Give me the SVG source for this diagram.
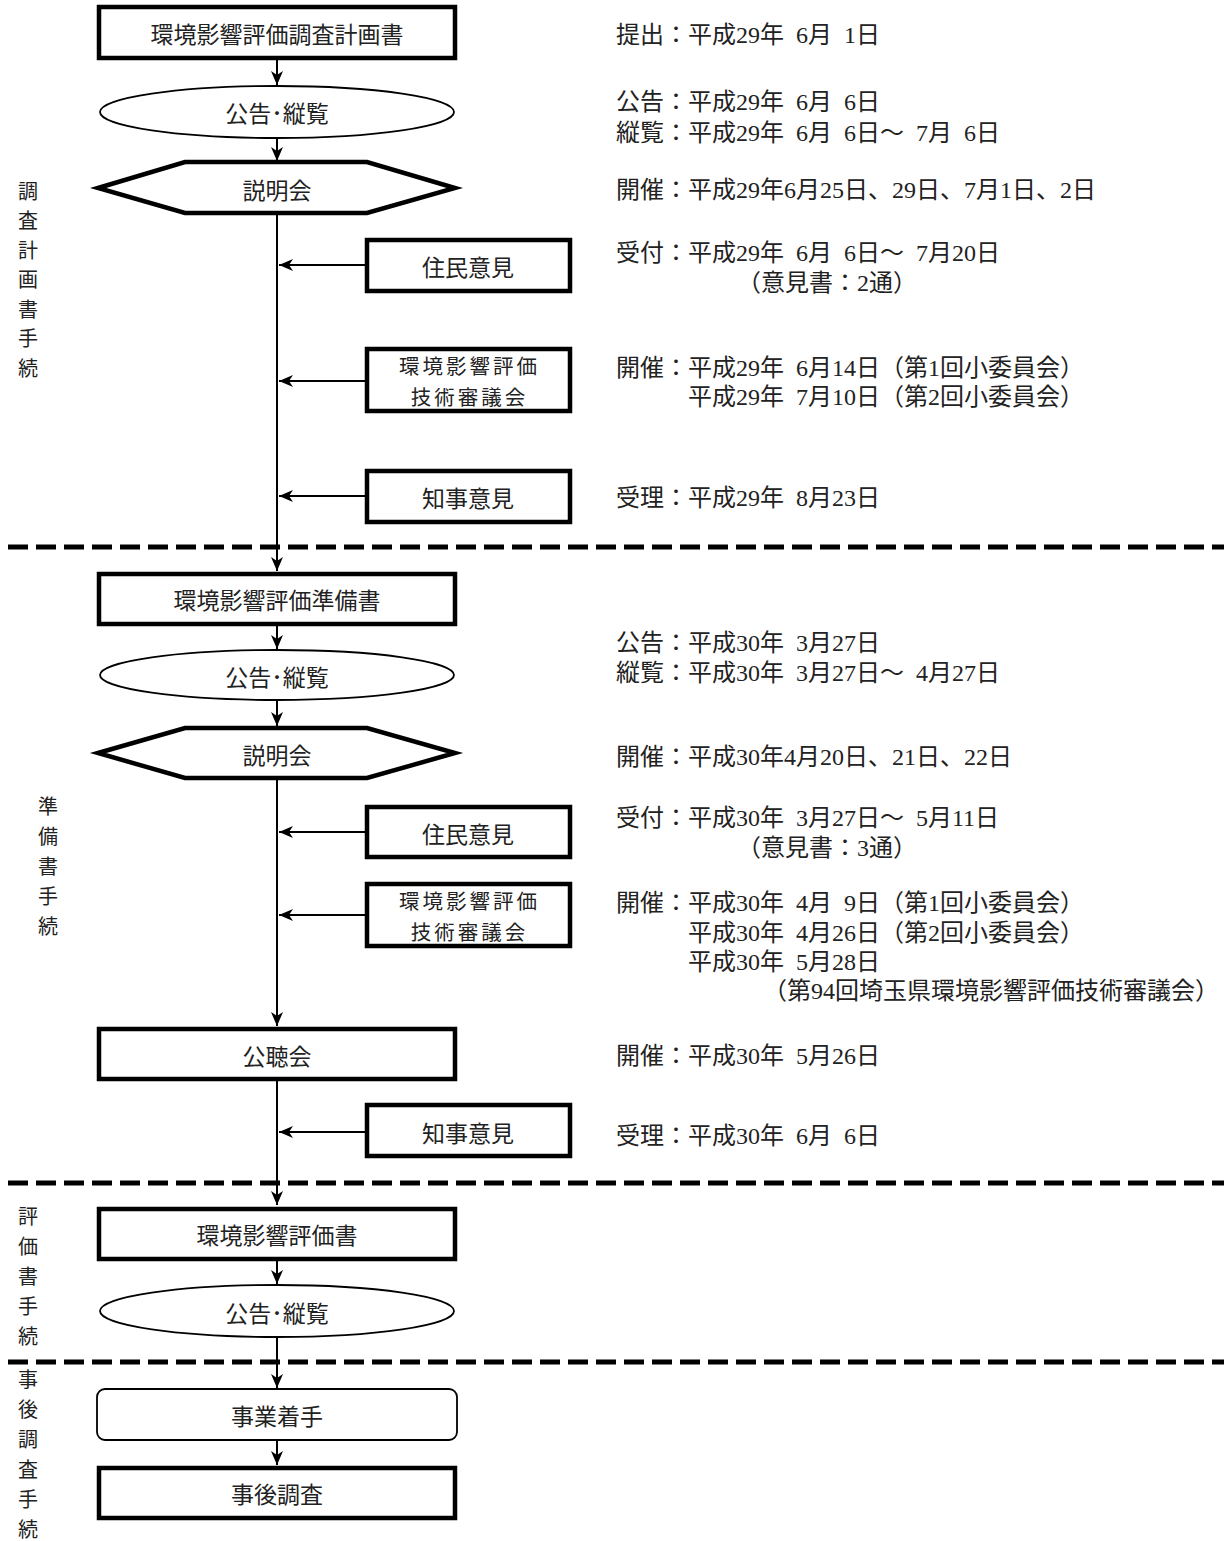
<svg xmlns="http://www.w3.org/2000/svg" width="1224" height="1541" viewBox="0 0 1224 1541">
<style>
.box{fill:#fff;stroke:#000;stroke-width:4.5}
.thin{fill:#fff;stroke:#000;stroke-width:1.8}
.lbl{font-family:"Noto Sans CJK JP",sans-serif;font-size:23px;fill:#222;text-anchor:middle;dominant-baseline:central}
.lbl2{font-family:"Noto Sans CJK JP",sans-serif;font-size:20.5px;letter-spacing:3px;fill:#222;text-anchor:middle;dominant-baseline:central}
.side{font-family:"Noto Sans CJK JP",sans-serif;font-size:20px;fill:#222;text-anchor:middle;dominant-baseline:central}
.note{font-family:"Liberation Serif","Noto Sans CJK JP",serif;font-size:24px;fill:#222;dominant-baseline:central}
.con{stroke:#000;stroke-width:2;fill:none;marker-end:url(#ah)}
.dash{stroke:#000;stroke-width:5;stroke-dasharray:20 8;fill:none}
</style>
<defs>
<marker id="ah" viewBox="0 0 14 12" refX="14" refY="6" markerWidth="14" markerHeight="12" markerUnits="userSpaceOnUse" orient="auto">
<path d="M0,0 L14,6 L0,12 L4,6 Z" fill="#000"/>
</marker>
</defs>
<rect width="1224" height="1541" fill="#fff"/>

<g id="dividers">
<line class="dash" x1="8" y1="547" x2="1224" y2="547"/>
<line class="dash" x1="8" y1="1183" x2="1224" y2="1183"/>
<line class="dash" x1="8" y1="1362" x2="1224" y2="1362"/>
</g>

<g id="connectors">
<line class="con" x1="277" y1="60" x2="277" y2="85"/>
<line class="con" x1="277" y1="138" x2="277" y2="161"/>
<line class="con" x1="277" y1="213" x2="277" y2="571"/>
<line class="con" x1="365" y1="265" x2="279" y2="265"/>
<line class="con" x1="365" y1="381" x2="279" y2="381"/>
<line class="con" x1="365" y1="496" x2="279" y2="496"/>
<line class="con" x1="277" y1="625" x2="277" y2="649"/>
<line class="con" x1="277" y1="700" x2="277" y2="726"/>
<line class="con" x1="277" y1="778" x2="277" y2="1026"/>
<line class="con" x1="365" y1="832" x2="279" y2="832"/>
<line class="con" x1="365" y1="915" x2="279" y2="915"/>
<line class="con" x1="277" y1="1080" x2="277" y2="1205"/>
<line class="con" x1="365" y1="1132" x2="279" y2="1132"/>
<line class="con" x1="277" y1="1259" x2="277" y2="1284"/>
<line class="con" x1="277" y1="1338" x2="277" y2="1388"/>
<line class="con" x1="277" y1="1440" x2="277" y2="1465"/>
</g>

<g id="phase1-label">
<text class="side" x="28" y="190">調</text>
<text class="side" x="28" y="219">査</text>
<text class="side" x="28" y="249">計</text>
<text class="side" x="28" y="278">画</text>
<text class="side" x="28" y="308">書</text>
<text class="side" x="28" y="337">手</text>
<text class="side" x="28" y="367">続</text>
</g>
<g id="phase2-label">
<text class="side" x="48" y="805">準</text>
<text class="side" x="48" y="835">備</text>
<text class="side" x="48" y="865">書</text>
<text class="side" x="48" y="895">手</text>
<text class="side" x="48" y="925">続</text>
</g>
<g id="phase3-label">
<text class="side" x="28" y="1215">評</text>
<text class="side" x="28" y="1245">価</text>
<text class="side" x="28" y="1275">書</text>
<text class="side" x="28" y="1305">手</text>
<text class="side" x="28" y="1335">続</text>
</g>
<g id="phase4-label">
<text class="side" x="28" y="1378">事</text>
<text class="side" x="28" y="1408">後</text>
<text class="side" x="28" y="1438">調</text>
<text class="side" x="28" y="1468">査</text>
<text class="side" x="28" y="1498">手</text>
<text class="side" x="28" y="1528">続</text>
</g>

<g id="n-plan">
<rect class="box" x="99" y="7" width="356" height="51"/>
<text class="lbl" x="277" y="33">環境影響評価調査計画書</text>
</g>
<g id="n-notice1">
<ellipse class="thin" cx="277" cy="112" rx="177" ry="26"/>
<text class="lbl" x="277" y="112">公告･縦覧</text>
</g>
<g id="n-briefing1">
<polygon class="box" points="98,188 185,162 367,162 455,188 367,213 185,213"/>
<text class="lbl" x="277" y="189">説明会</text>
</g>
<g id="n-resident1">
<rect class="box" x="367" y="240" width="203" height="51"/>
<text class="lbl" x="468" y="266">住民意見</text>
</g>
<g id="n-council1">
<rect class="box" x="367" y="349" width="203" height="62"/>
<text class="lbl2" x="469.5" y="365">環境影響評価</text>
<text class="lbl2" x="469.5" y="396">技術審議会</text>
</g>
<g id="n-governor1">
<rect class="box" x="367" y="471" width="203" height="51"/>
<text class="lbl" x="468" y="497">知事意見</text>
</g>

<g id="n-prep">
<rect class="box" x="99" y="574" width="356" height="50"/>
<text class="lbl" x="277" y="599">環境影響評価準備書</text>
</g>
<g id="n-notice2">
<ellipse class="thin" cx="277" cy="675" rx="177" ry="25"/>
<text class="lbl" x="277" y="676">公告･縦覧</text>
</g>
<g id="n-briefing2">
<polygon class="box" points="98,753 185,728 367,728 455,753 367,778 185,778"/>
<text class="lbl" x="277" y="754">説明会</text>
</g>
<g id="n-resident2">
<rect class="box" x="367" y="807" width="203" height="50"/>
<text class="lbl" x="468" y="833">住民意見</text>
</g>
<g id="n-council2">
<rect class="box" x="367" y="884" width="203" height="62"/>
<text class="lbl2" x="469.5" y="900">環境影響評価</text>
<text class="lbl2" x="469.5" y="931">技術審議会</text>
</g>
<g id="n-hearing">
<rect class="box" x="99" y="1029" width="356" height="50"/>
<text class="lbl" x="277" y="1055">公聴会</text>
</g>
<g id="n-governor2">
<rect class="box" x="367" y="1105" width="203" height="51"/>
<text class="lbl" x="468" y="1132">知事意見</text>
</g>

<g id="n-assess">
<rect class="box" x="99" y="1209" width="356" height="50"/>
<text class="lbl" x="277" y="1234">環境影響評価書</text>
</g>
<g id="n-notice3">
<ellipse class="thin" cx="277" cy="1311" rx="177" ry="26"/>
<text class="lbl" x="277" y="1312">公告･縦覧</text>
</g>
<g id="n-start">
<rect class="thin" x="97" y="1389" width="360" height="51" rx="8"/>
<text class="lbl" x="277" y="1415">事業着手</text>
</g>
<g id="n-followup">
<rect class="box" x="99" y="1468" width="356" height="50"/>
<text class="lbl" x="277" y="1493">事後調査</text>
</g>

<g id="notes1">
<text class="note" x="616" y="35">提出：平成29年&#8194;6月&#8194;1日</text>
<text class="note" x="616" y="102">公告：平成29年&#8194;6月&#8194;6日</text>
<text class="note" x="616" y="133">縦覧：平成29年&#8194;6月&#8194;6日～&#8194;7月&#8194;6日</text>
<text class="note" x="616" y="190">開催：平成29年6月25日、29日、7月1日、2日</text>
<text class="note" x="616" y="253">受付：平成29年&#8194;6月&#8194;6日～&#8194;7月20日</text>
<text class="note" x="737" y="283">（意見書：2通）</text>
<text class="note" x="616" y="368">開催：平成29年&#8194;6月14日（第1回小委員会）</text>
<text class="note" x="688" y="397">平成29年&#8194;7月10日（第2回小委員会）</text>
<text class="note" x="616" y="498">受理：平成29年&#8194;8月23日</text>
</g>
<g id="notes2">
<text class="note" x="616" y="643">公告：平成30年&#8194;3月27日</text>
<text class="note" x="616" y="673">縦覧：平成30年&#8194;3月27日～&#8194;4月27日</text>
<text class="note" x="616" y="757">開催：平成30年4月20日、21日、22日</text>
<text class="note" x="616" y="818">受付：平成30年&#8194;3月27日～&#8194;5月11日</text>
<text class="note" x="737" y="848">（意見書：3通）</text>
<text class="note" x="616" y="903">開催：平成30年&#8194;4月&#8194;9日（第1回小委員会）</text>
<text class="note" x="688" y="933">平成30年&#8194;4月26日（第2回小委員会）</text>
<text class="note" x="688" y="962">平成30年&#8194;5月28日</text>
<text class="note" x="763" y="991">（第94回埼玉県環境影響評価技術審議会）</text>
<text class="note" x="616" y="1056">開催：平成30年&#8194;5月26日</text>
<text class="note" x="616" y="1136">受理：平成30年&#8194;6月&#8194;6日</text>
</g>
</svg>
